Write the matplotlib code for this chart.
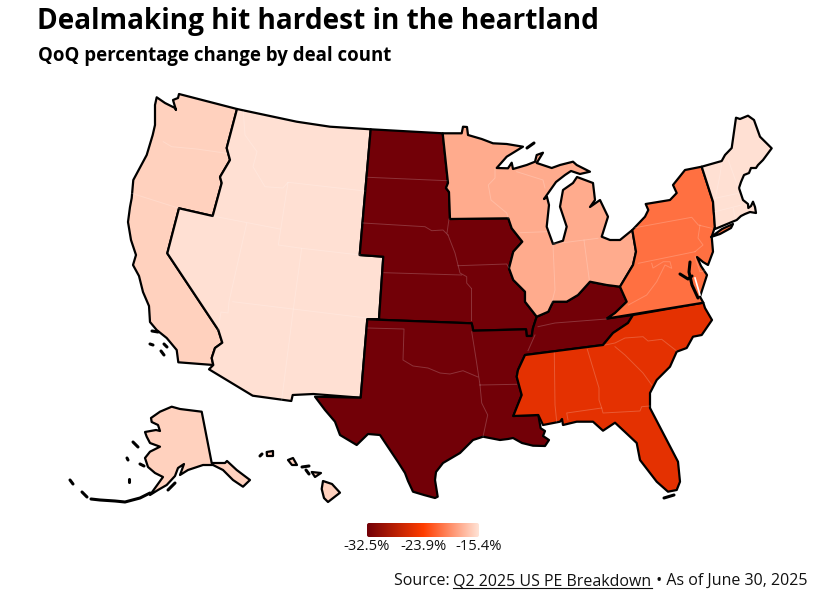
import numpy as np
import matplotlib
matplotlib.use("Agg")
import matplotlib.pyplot as plt
from matplotlib.colors import LinearSegmentedColormap, Normalize
from matplotlib.patches import Polygon, FancyBboxPatch

west = [(179,94),(237,109),(226.7,148),(230,160),(220,177),(221.7,183),(212.7,216),(179,208.3),(167.3,253.3),
        (218.3,330),(222.3,342.7),(215,348),(211.7,358),(213.3,365),(178.3,362.3),(176.7,350),(166.7,338),(156.7,330),
        (150,322),(149,306),(143,292),(139,276),(133,265),(136,255),(131,240),(128,222),(130,207),(131.7,198),(133.3,180),
        (146.7,155),(152.7,135),(155,125),(155,105),(156.7,97.3),(165,103),(175,108),(176,110),(173,100),(178,98)]
mountain = [(237,109),(296.7,121.7),(330,126.7),(370.7,129.3),(359.7,255),(383.3,256.7),(379,319.3),(367.3,319.3),
            (360.7,397.7),(313.3,394),(292.7,395),(291.3,401),(252.7,395.7),(209,369.3),(213.3,365),(211.7,358),(215,348),
            (222.3,342.7),(218.3,330),(167.3,253.3),(179,208.3),(212.7,216),(221.7,183),(220,177),(230,160),(226.7,148)]
plains = [(370.7,129.3),(442.7,133.3),(448,183),(446,188),(449,192),(450,219),(508.3,218.3),(511.7,228.3),(522.3,241.7),
          (513.3,251.7),(509,268.3),(513.3,280),(525,291.7),(525,301.7),(536.7,316.7),(533,328),(531.7,336),(526.7,336),
          (526,329.3),(473.3,330.7),(471.7,323.3),(367.3,319.3),(379,319.3),(383.3,256.7),(359.7,255)]
south = [(367.3,319.3),(471.7,323.3),(473.3,330.7),(526,329.3),(526.7,336),(531.7,336),(533,328),(536.7,316.7),(548.3,311.7),
         (553,301.7),(566.7,301.7),(578,295),(590,281.7),(606.7,285),(620,286.7),(626.7,301.7),(615,313),(607,318.5),(633,315),
         (628,323),(613,333),(603,345),(525,355),(518,370),(516.7,376.7),(521.7,395),(513.3,416),(538.3,415),(540.7,428.3),
         (545,431),(543,436),(549,440),(545,446),(533,445.7),(522,443),(513,438),(508,439),(500,440),(483,436.7),(473,440),
         (460,453),(443,463),(436,472),(435,480),(437.7,496.7),(435,498),(424,495),(413,491.7),(408,481),(405,473),(398,462),
         (390,450),(380,435),(368,434),(356.7,445),(340,435),(335,421.7),(325,410),(315,396.7),(360.7,397.7)]
southeast = [(525,355),(603,345),(613,333),(628,323),(633,315),(703.3,302.7),(705,308),(712,320),(701.7,335),(693,336.7),
             (686.7,348),(676.7,351.7),(670,366.7),(656.7,380),(650,393),(650,408),(666.7,440),(678,461.7),(680,481.7),
             (676.7,490),(668,491.7),(656.7,481.7),(640,460),(636.7,443),(625,432),(615,422.7),(603,430.7),(593,421.7),
             (576.7,421.7),(563,425),(562,419),(560,421.7),(543,425),(538.3,415),(513.3,416),(521.7,395),(516.7,376.7),(518,370)]
midatlantic = [(701.7,166.7),(713,201.7),(715,226.7),(711.7,236.7),(713,251.7),(708,265),(703,262),(697,257),(701,266),(707,275),
               (700,296.7),(703.3,302.7),(607,318.5),(615,313),(626.7,301.7),(620,286.7),(633,265),(636,251.7),(632.3,230),
               (645,216.7),(648.3,210),(645.7,204),(670,200),(676.7,193),(673,185),(685,170)]
long_island = [(711,237),(722,229),(733,224),(731,228),(720,234)]
midwest = [(442.7,133.3),(461.7,133.3),(463,126.7),(467,127),(468,135),(481.7,139),(493,143.3),(506.7,144),(523,146.7),
           (506.7,156.7),(496.7,168),(508,168.3),(511.7,162.7),(513,169),(526.7,165),(535,161.7),(536.7,155),(543,152.7),
           (536.7,163),(551.7,168),(560,165),(573,161.7),(576.7,165),(590,171.7),(580,174),(571,171),(565,175),(556,182),
           (544,199),(547,197),(549,205),(546.7,226.7),(553,244),(563,240.7),(566.7,226.7),(560,206.7),(563,190),(573,183),
           (577,177),(593,183),(595,200),(590,207),(600,200),(608,216.7),(601.7,236.7),(610,240),(620,240),(632.3,230),
           (636,251.7),(633,265),(620,286.7),(606.7,285),(590,281.7),(578,295),(566.7,301.7),(553,301.7),(548.3,311.7),
           (536.7,316.7),(525,301.7),(525,291.7),(513.3,280),(509,268.3),(513.3,251.7),(522.3,241.7),(511.7,228.3),
           (508.3,218.3),(450,219),(449,192),(446,188),(448,183)]
newengland = [(701.7,166.7),(721.7,161),(725,155),(731.7,148),(736,117.7),(740,119),(748,115.7),(754,120),(760,136.7),
              (771.7,148.3),(763,160),(758,165),(756,168),(751,168),(749,173),(744,175),(741,182),(739,188),(741,194),(743,200),
              (748,204),(748.3,208),(751,206),(753,201.7),(755,207),(756,213),(750,212),(745,214),(741,216),(736.7,220),
              (715,229),(713,201.7)]
alaska = [(171.7,406.7),(180,409),(201.7,411.7),(211.7,463),(225,463),(227,461),(236.7,470),(250,480),(243,486.7),(233,480),
          (223,470),(213,465),(203,465),(188,470),(180,475),(184,464),(178,468),(175,476),(166.7,485),(158,490),(150,495),
          (163,477),(155,473),(148,467),(145,458),(150,451.7),(160,446.7),(150,443),(146.7,436.7),(145,432),(156,430),(160,431),
          (158,425),(151.7,422),(151,418),(160,411.7)]
hawaii = [[(323,481),(332,484),(340,492.7),(328,502),(324,498),(321.7,489)],
          [(311.7,472),(321,473),(315,477)],
          [(288,460),(293,458),(297,465),(292,465)],
          [(266.7,452),(273,451),(273,456),(267,456)]]

# thin state lines inside each group
west_lines = [[(163.3,141.7),(171.7,146.7),(196.7,149),(226.7,153.3)],[(131.7,193.3),(179,208.3)]]
mountain_lines = [[(243.3,111.7),(245,135),(257,151.7),(253,166.7),(265,186.7),(283,188),(288,182.3)],
                  [(288,182.3),(365,191)],[(288,182.3),(278.3,245),(301.7,248.3),(360,255)],
                  [(212.7,216),(280,229)],[(301.7,248.3),(298,275),(293,311.7),(281.7,400)],
                  [(246.7,223.3),(229,301.7),(228,313),(221,312),(218,330)],[(232.7,301.7),(366.7,318)]]
plains_lines = [[(368,177.3),(447,180.7)],[(363,223),(425,226.7),(431.7,230.7),(443,230),(448,235)],[(449,219),(447,233)],
                [(448,235),(455,253),(460,273),(466.7,276.7),(466.7,283),(471,288)],[(384,272.7),(461.7,275)],
                [(458,265.7),(506.7,264),(509,268)],[(471,288),(471,320)]]
south_lines = [[(368,328),(404,329),(403,360),(413,366),(428,368),(440,373),(450,374),(463,370.7),(478,377)],
               [(471.7,331.7),(475.7,356.7),(480,385)],[(480,385),(481.7,403),(487.7,415),(483,436.7)],
               [(480,385),(516.7,384.3)],[(538,326.7),(555,323),(606.7,319)],[(535,335),(528,350.7)]]
southeast_lines = [[(554.3,353),(555,405),(556.7,421.7)],[(587.3,349.3),(599,388),(599,400),(601.7,408)],
                   [(568,420),(566.7,413),(601.7,408),(603,413),(640,411),(641.7,406.7),(650,406)],
                   [(615,346.7),(625,355),(643,373),(651.7,385)],
                   [(605,345),(615,343),(625,338),(643,336.7),(648,341),(661.7,339.3),(676.7,351)]]
midwest_lines = [[(495,168.3),(495,178),(488.3,185),(491,200),(506.7,213),(508.3,218.3)],
                 [(516.7,171.7),(543,180),(545,188)],[(520,232.7),(546.7,231.7)],[(553,245),(555,290),(551.7,303)],
                 [(553,244),(598,238.3)],[(584,240),(589.3,280)]]
midatlantic_lines = [[(635,227.7),(691.7,217.3),(698.3,225),(711.7,228.3)],
                     [(700,225),(698,238),(703,245),(695,251.7)],[(638.3,263.3),(695,251.7)],
                     [(651.7,263.3),(653,268),(663.3,261.7),(670,261.7),(671.7,268.3),(665,265),(656.7,281.7),(646.7,295),(628.3,305)],
                     [(695,256.7),(700,271.7),(708.3,270)]]
newengland_lines = [[(728.3,160),(738.3,188.3)],[(721.7,163.3),(720,175),(715,200)],[(715,198.3),(738.3,193.3)],
                    [(715,211.7),(741.7,205)],[(733.3,208.3),(735,218)]]

# small black islands and coast bits
dark_bits = [[(152,331),(158,332)],[(150,344),(153,345)],[(164,344),(167,347)],[(161,351),(164,355)],
             [(527,148),(534,143)],[(690,262),(689,272),(692,285),(698,298)],[(680,274),(688,279),(692,276)],
             [(664,498),(674,495)],[(91,499),(100,500),(115,501),(125,502),(140,498),(150,493)],
             [(70,480),(73,484)],[(82,492),(87,497)],[(133,442),(138,447)],[(127,458),(128,460)],[(140,464),(144,466)],
             [(129,479),(129,482)],[(260,456),(262,454)],[(302,467),(309,466)],[(306,470),(309,474)],[(168,490),(175,483)]]
white_bits = [[(695,278),(700,295)]]

region_values = {"west": -16.4, "mountain": -15.6, "plains": -32.5, "south": -32.5, "southeast": -25.5,
                 "midatlantic": -21.3, "midwest": -18.3, "newengland": -15.6}
bar_ticks = [-32.5, -23.9, -15.4]
bar_labels = ["-32.5%", "-23.9%", "-15.4%"]

plt.rcParams['font.family'] = ['Open Sans', 'DejaVu Sans']
cmap = LinearSegmentedColormap.from_list("deal", [(0, "#720007"), (0.503, "#ff3d00"), (1, "#ffe3d6")])
norm = Normalize(-32.5, -15.4)

fig = plt.figure(figsize=(8.21, 6.01), dpi=100)
ax = fig.add_axes([0, 0, 1, 1])
ax.set_xlim(0, 821)
ax.set_ylim(601, 0)
ax.axis("off")


def draw(points, value):
    ax.add_patch(Polygon(points, closed=True, facecolor=cmap(norm(value)), edgecolor="black", lw=1.6, joinstyle="round"))


def thin(lines):
    for line in lines:
        xs, ys = zip(*line)
        ax.plot(xs, ys, color="white", lw=0.7, alpha=0.2)


draw(west, region_values["west"])
draw(mountain, region_values["mountain"])
draw(plains, region_values["plains"])
draw(south, region_values["south"])
draw(southeast, region_values["southeast"])
draw(midwest, region_values["midwest"])
draw(midatlantic, region_values["midatlantic"])
draw(long_island, region_values["midatlantic"])
draw(newengland, region_values["newengland"])
draw(alaska, region_values["west"])
for island in hawaii:
    draw(island, region_values["west"])

for lines in [west_lines, mountain_lines, plains_lines, south_lines, southeast_lines, midwest_lines,
              midatlantic_lines, newengland_lines]:
    thin(lines)

for bit in dark_bits:
    xs, ys = zip(*bit)
    ax.plot(xs, ys, color="black", lw=2.2, solid_capstyle="round")
for bit in white_bits:
    xs, ys = zip(*bit)
    ax.plot(xs, ys, color="white", lw=1.2)

# colour bar
grad = np.linspace(0, 1, 256).reshape(1, -1)
im = ax.imshow(grad, cmap=cmap, extent=(367, 479, 537, 523), aspect="auto", zorder=3)
clip = FancyBboxPatch((369, 525), 108, 10, boxstyle="round,pad=2", transform=ax.transData, fc="none", ec="none")
ax.add_patch(clip)
im.set_clip_path(clip)
ax.set_xlim(0, 821)
ax.set_ylim(601, 0)
for t, lab in zip(bar_ticks, bar_labels):
    ax.text(367 + (t + 32.5) / 17.1 * 112, 546, lab, ha="center", va="center", fontsize=10.6, color="#111111")

ax.text(37, 21, "Dealmaking hit hardest in the heartland", fontsize=20.2, fontweight="bold", va="center", color="black")
ax.text(38, 56, "QoQ percentage change by deal count", fontsize=13.4, fontweight="bold", va="center", color="black")

# source line, three pieces so that the link can be underlined
fig.canvas.draw()
rend = fig.canvas.get_renderer()
t3 = ax.text(807, 581, " \u2022 As of June 30, 2025", ha="right", va="center", fontsize=11.5, color="#111111")
x2 = t3.get_window_extent(rend).x0
t2 = ax.text(x2, 581, "Q2 2025 US PE Breakdown", ha="right", va="center", fontsize=11.5, color="#111111")
x1 = t2.get_window_extent(rend).x0
ax.text(x1, 581, "Source: ", ha="right", va="center", fontsize=11.5, color="#111111")
ax.plot([x1, x2], [588, 588], color="#111111", lw=0.8)

fig.savefig("out.png", dpi=100)
